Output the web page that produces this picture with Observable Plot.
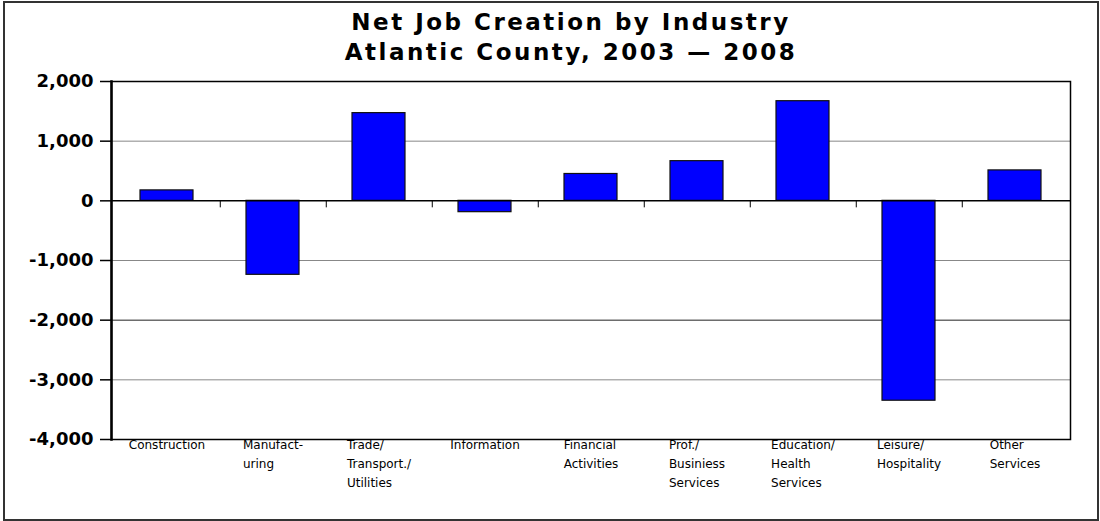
<!DOCTYPE html>
<html>
<head>
<meta charset="utf-8">
<script src="https://cdn.jsdelivr.net/npm/d3@7"></script>
<script src="https://cdn.jsdelivr.net/npm/@observablehq/plot@0.6"></script>
<style>
  html, body { margin: 0; padding: 0; background: #fff; }
  #wrap { position: relative; width: 1100px; height: 521px; overflow: hidden; background: #fff; }
  #border { position: absolute; left: 3px; top: 1px; width: 1092px; height: 516px; border: 2px solid #333; }
  #title { position: absolute; left: 571px; top: 7px; transform: translateX(-50%); white-space: nowrap;
           font-family: "Comic Sans MS", "DejaVu Sans", sans-serif; font-weight: bold; font-size: 23px;
           letter-spacing: 2.5px; line-height: 30px; text-align: center; color: #000; }
  #chart { position: absolute; left: 0; top: 70px; }
</style>
</head>
<body>
<div id="wrap">
  <div id="border"></div>
  <div id="title">Net Job Creation by Industry<br>Atlantic County, 2003 — 2008</div>
  <div id="chart"></div>
</div>
<script>
// ---- data ----
const industries = ["Construction", "Manufacturing", "Trade/Transport./Utilities", "Information",
  "Financial Activities", "Prof./Business Services", "Education/Health Services",
  "Leisure/Hospitality", "Other Services"];
const netJobs = [175, -1240, 1470, -190, 450, 665, 1670, -3350, 510];
const industryLabels = [
  ["Construction"],
  ["Manufact-", "uring"],
  ["Trade/", "Transport./", "Utilities"],
  ["Information"],
  ["Financial", "Activities"],
  ["Prof./", "Businiess", "Services"],
  ["Education/", "Health", "Services"],
  ["Leisure/", "Hospitality"],
  ["Other", "Services"]
];
const yTicks = [-4000, -3000, -2000, -1000, 0, 1000, 2000];
const gridGray = [1000, -1000, -3000];
const gridDark = [-2000];

const data = industries.map((d, i) => ({industry: d, value: netJobs[i]}));

// ---- layout ----
const W = 1100, H = 451, mL = 111, mR = 30, mT = 11, mB = 82;
const step = (W - mL - mR) / industries.length;
const labelFont = "12px 'Comic Sans MS', 'DejaVu Sans', sans-serif";
const ctx = document.createElement("canvas").getContext("2d");
ctx.font = labelFont;
const blockWidth = industryLabels.map(lines => Math.max(...lines.map(l => ctx.measureText(l).width)));
const fmt = d => d.toLocaleString("en-US");

const labelMarks = industries.map((c, i) => Plot.text([c], {
  x: d => d,
  y: () => -4000,
  text: () => industryLabels[i].join("\n"),
  textAnchor: "start",
  lineAnchor: "top",
  lineHeight: 1.58,
  dx: -blockWidth[i] / 2,
  dy: -4,
  fontSize: 12,
  fill: "#000"
}));

const chart = Plot.plot({
  width: W, height: H,
  marginLeft: mL, marginRight: mR, marginTop: mT, marginBottom: mB,
  style: {background: "transparent", fontFamily: "'Comic Sans MS', 'DejaVu Sans', sans-serif", color: "#000"},
  x: {domain: industries, paddingInner: 0.5, paddingOuter: 0.25, axis: null},
  y: {domain: [-4000, 2000], axis: null},
  marks: [
    Plot.ruleY(gridGray, {stroke: "#888", strokeWidth: 1}),
    Plot.ruleY(gridDark, {stroke: "#222", strokeWidth: 1}),
    Plot.barY(data, {x: "industry", y: "value", fill: "#0000ff", stroke: "#111", strokeWidth: 1.2}),
    Plot.ruleY([0], {stroke: "#000", strokeWidth: 1.5}),
    Plot.ruleX(industries.slice(0, -1), {x: d => d, y1: 0, y2: 0, dx: step / 2, insetBottom: -7, stroke: "#000", strokeWidth: 1}),
    Plot.frame({stroke: "#000", strokeWidth: 1.5}),
    Plot.frame({anchor: "left", stroke: "#000", strokeWidth: 2.5}),
    Plot.axisY({ticks: yTicks, tickSize: 11, tickPadding: 7, tickFormat: fmt, fontSize: 18, fontWeight: "bold",
      label: null, stroke: "#000", strokeWidth: 1.5}),
    ...labelMarks
  ]
});
document.getElementById("chart").appendChild(chart);
</script>
</body>
</html>
